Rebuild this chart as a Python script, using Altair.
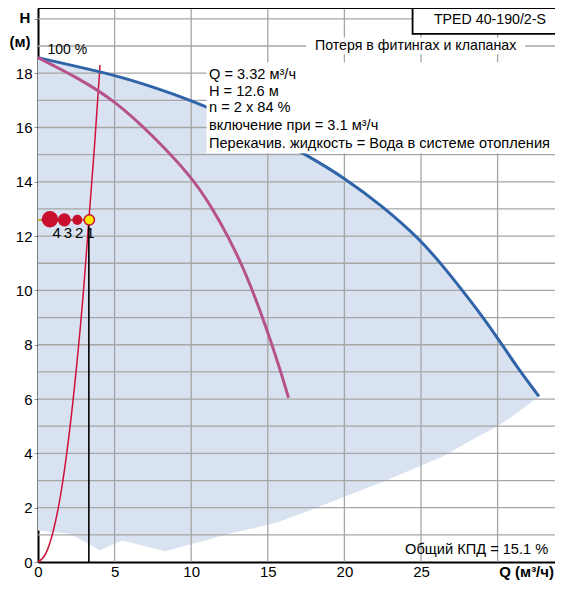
import altair as alt
import pandas as pd

# Operating range envelope: upper edge (max curve, 2 pumps) and lower edge
q_env = [0, 2.1, 4.05, 5.5, 8.3, 10.6, 12.5, 15.6, 17.5, 20, 22.5, 25, 26.5, 27.7, 29, 30, 31.3, 32.7]
h_top = [18.57, 18.3, 18.0, 17.8, 17.35, 16.85, 16.4, 15.6, 15.0, 14.15, 13.1, 11.85, 10.85, 10.0, 9.05, 8.25, 7.15, 6.1]
h_bottom = [1.16, 1.04, 0.43, 0.79, 0.40, 0.75, 1.05, 1.45, 1.85, 2.4, 2.95, 3.55, 3.9, 4.3, 4.7, 5.0, 5.5, 6.1]

# Max curve (2 pumps, blue)
q_blue = [0, 2.5, 5, 7.5, 10, 12.5, 15, 17.5, 20, 22.5, 25, 26.5, 27.7, 29, 30, 31.3, 32.7]
h_blue = [18.57, 18.25, 17.93, 17.5, 17.0, 16.4, 15.75, 15.0, 14.15, 13.1, 11.85, 10.85, 10.0, 9.05, 8.25, 7.15, 6.1]

# Single pump curve (pink)
q_pink = [0, 1, 2.5, 5, 7.5, 10, 11.25, 12.5, 13.5, 14.2, 14.8, 15.3, 15.85, 16.35]
h_pink = [18.57, 18.28, 17.85, 17.0, 15.7, 14.2, 13.15, 11.9, 10.7, 9.7, 8.78, 7.95, 7.0, 6.05]

# System curve (red)
q_sys = [0, 0.5, 1.0, 1.5, 2.0, 2.5, 3.0, 3.32, 3.7, 4.05]
h_sys = [0, 0.3, 1.15, 2.55, 4.55, 7.1, 10.2, 12.6, 15.4, 18.3]

# Duty points
pt_labels = ["4", "3", "2", "1"]
pt_q = [0.78, 1.72, 2.57, 3.35]
pt_h = [12.62, 12.6, 12.6, 12.6]
pt_size = [225, 135, 75, 105]
pt_fill = ["#c8102e", "#c8102e", "#c8102e", "#ffe600"]
label_q = [1.22, 1.95, 2.68, 3.42]
label_h = [12.1, 12.1, 12.1, 12.1]

op_q = 3.32
op_h = 12.6

x_grid = [5, 10, 15, 20, 25, 30]
y_grid = list(range(1, 21))
x_ticks = [0, 5, 10, 15, 20, 25]
y_ticks = list(range(0, 21))

info_lines = ["Q = 3.32 м³/ч", "H = 12.6 м", "n = 2 x 84 %",
              "включение при = 3.1 м³/ч",
              "Перекачив. жидкость = Вода в системе отопления"]
info_h = [17.92, 17.3, 16.7, 16.05, 15.38]

W, H = 517, 554
PX_PER_Q = 15.32
XMAX = W / PX_PER_Q
YMAX = 20.4
FONT = "Liberation Sans"

xs = alt.Scale(domain=[0, XMAX], nice=False, zero=False)
ys = alt.Scale(domain=[0, YMAX], nice=False, zero=False)

env = pd.DataFrame({"q": q_env, "top": h_top, "bot": h_bottom})
blue_df = pd.DataFrame({"q": q_blue, "h": h_blue})
pink = pd.DataFrame({"q": q_pink, "h": h_pink})
sysc = pd.DataFrame({"q": q_sys, "h": h_sys})
pts = pd.DataFrame({"lab": pt_labels, "q": pt_q, "h": pt_h, "s": pt_size, "f": pt_fill})
labs = pd.DataFrame({"lab": pt_labels, "q": label_q, "h": label_h})
gx = pd.DataFrame({"v": x_grid})
gy = pd.DataFrame({"v": y_grid})
info = pd.DataFrame({"t": info_lines, "h": info_h})

x_axis = alt.Axis(values=x_ticks, grid=False, ticks=False, labelFontSize=15, labelFont=FONT,
                  labelColor="black", domainColor="black", domainWidth=2, labelPadding=2,
                  title=None, labelFlush=False)
y_axis = alt.Axis(values=y_ticks, grid=False, tickSize=4, tickColor="#999999",
                  labelExpr="datum.value % 2 == 0 && datum.value <= 18 ? datum.label : ''",
                  labelFontSize=15, labelFont=FONT, labelColor="black", domainColor="black",
                  domainWidth=2, labelPadding=2, title=None, labelFlush=False)

area = alt.Chart(env).mark_area(color="#d9e2f1", interpolate="linear").encode(
    x=alt.X("q:Q", scale=xs, axis=x_axis),
    y=alt.Y("top:Q", scale=ys, axis=y_axis),
    y2="bot:Q",
)

grid_x = alt.Chart(gx).mark_rule(color="#a6a6a6", strokeWidth=1.3).encode(x=alt.X("v:Q", scale=xs))
grid_y = alt.Chart(gy).mark_rule(color="#a6a6a6", strokeWidth=1.3).encode(y=alt.Y("v:Q", scale=ys))

blue = alt.Chart(blue_df).mark_line(color="#2f64a8", strokeWidth=3, interpolate="basis").encode(
    x=alt.X("q:Q", scale=xs), y=alt.Y("h:Q", scale=ys))
pinkl = alt.Chart(pink).mark_line(color="#b5528a", strokeWidth=3, interpolate="basis").encode(
    x=alt.X("q:Q", scale=xs), y=alt.Y("h:Q", scale=ys))
sysl = alt.Chart(sysc).mark_line(color="#d0103a", strokeWidth=1.5, interpolate="monotone").encode(
    x=alt.X("q:Q", scale=xs), y=alt.Y("h:Q", scale=ys))

op_df = pd.DataFrame({"q": [op_q], "h": [op_h], "z": [0]})
vline = alt.Chart(op_df).mark_rule(color="black", strokeWidth=1.6).encode(
    x=alt.X("q:Q", scale=xs), y=alt.Y("z:Q", scale=ys), y2="h:Q")
hline = alt.Chart(op_df).mark_rule(color="#5a1010", strokeWidth=1.2).encode(
    x=alt.X("z:Q", scale=xs), x2="q:Q", y=alt.Y("h:Q", scale=ys))
hline2 = alt.Chart(op_df).mark_rule(color="#ffe600", strokeWidth=1.2, strokeDash=[3, 3]).encode(
    x=alt.X("z:Q", scale=xs), x2="q:Q", y=alt.Y("h:Q", scale=ys))

circles = alt.Chart(pts).mark_point(filled=True, opacity=1, stroke="#c8102e", strokeWidth=1.5, shape="circle").encode(
    x=alt.X("q:Q", scale=xs), y=alt.Y("h:Q", scale=ys),
    size=alt.Size("s:Q", scale=None, legend=None),
    fill=alt.Fill("f:N", scale=None, legend=None),
)
ptlabels = alt.Chart(labs).mark_text(fontSize=15, font=FONT, color="black", baseline="middle").encode(
    x=alt.X("q:Q", scale=xs), y=alt.Y("h:Q", scale=ys), text="lab:N")

def txt(q, h, t, align="left", size=14, bold=False):
    d = pd.DataFrame({"q": [q], "h": [h], "t": [t]})
    return alt.Chart(d).mark_text(align=align, baseline="middle", fontSize=size, font=FONT,
                                  fontWeight="bold" if bold else "normal", color="black").encode(
        x=alt.X("q:Q", scale=xs), y=alt.Y("h:Q", scale=ys), text="t:N")

def box(q1, q2, h1, h2, stroke=None):
    d = pd.DataFrame({"q1": [q1], "q2": [q2], "h1": [h1], "h2": [h2]})
    kw = dict(fill="white")
    if stroke:
        kw.update(stroke=stroke, strokeWidth=1.8)
    return alt.Chart(d).mark_rect(**kw).encode(
        x=alt.X("q1:Q", scale=xs), x2="q2:Q", y=alt.Y("h1:Q", scale=ys), y2="h2:Q")

t100 = txt(0.62, 18.84, "100 %")
loss_box = box(17.5, 31.8, 18.7, 19.3)
loss_txt = txt(24.65, 19.0, "Потеря в фитингах и клапанах", align="center", size=14.2)
title_box = box(24.45, XMAX + 1, 19.45, YMAX + 1, stroke="black")
title_txt = txt(29.5, 19.95, "TPED 40-190/2-S", align="center", size=14.2)
info_box = box(11.0, XMAX, 15.05, 18.4)
info_txt = alt.Chart(info).mark_text(align="left", baseline="middle", fontSize=14.6, font=FONT, color="black").encode(
    x=alt.value(171), y=alt.Y("h:Q", scale=ys), text="t:N")
kpd = txt(33.3, 0.45, "Общий КПД = 15.1 %", align="right", size=14.6)

top_rule = alt.Chart(op_df).mark_rule(color="black", strokeWidth=2).encode(
    x=alt.value(0), x2=alt.value(W + 5), y=alt.value(0))

h_lab = alt.Chart(op_df).mark_text(text="H", fontSize=15, fontWeight="bold", font=FONT, align="center",
                                   baseline="middle", color="black").encode(x=alt.value(-13), y=alt.value(10))
m_lab = alt.Chart(op_df).mark_text(text="(м)", fontSize=15, fontWeight="bold", font=FONT, align="center",
                                   baseline="middle", color="black").encode(x=alt.value(-18), y=alt.value(34))
q_lab = alt.Chart(op_df).mark_text(text="Q (м³/ч)", fontSize=15, fontWeight="bold", font=FONT, align="right",
                                   baseline="middle", color="black").encode(x=alt.value(W - 1), y=alt.value(H + 10))

chart = alt.layer(
    area, grid_x, grid_y, sysl, blue, pinkl, vline, hline, hline2, circles, ptlabels,
    t100, loss_box, loss_txt, title_box, title_txt, info_box, info_txt, kpd, top_rule,
    h_lab, m_lab, q_lab,
).properties(
    width=W, height=H,
    padding={"left": 30, "top": 0, "right": 0, "bottom": 19},
    autosize=alt.AutoSizeParams(type="none"),
).configure_view(stroke=None).configure(background="white")

chart.save("out.html", embed_options={"renderer": "svg", "actions": False})
